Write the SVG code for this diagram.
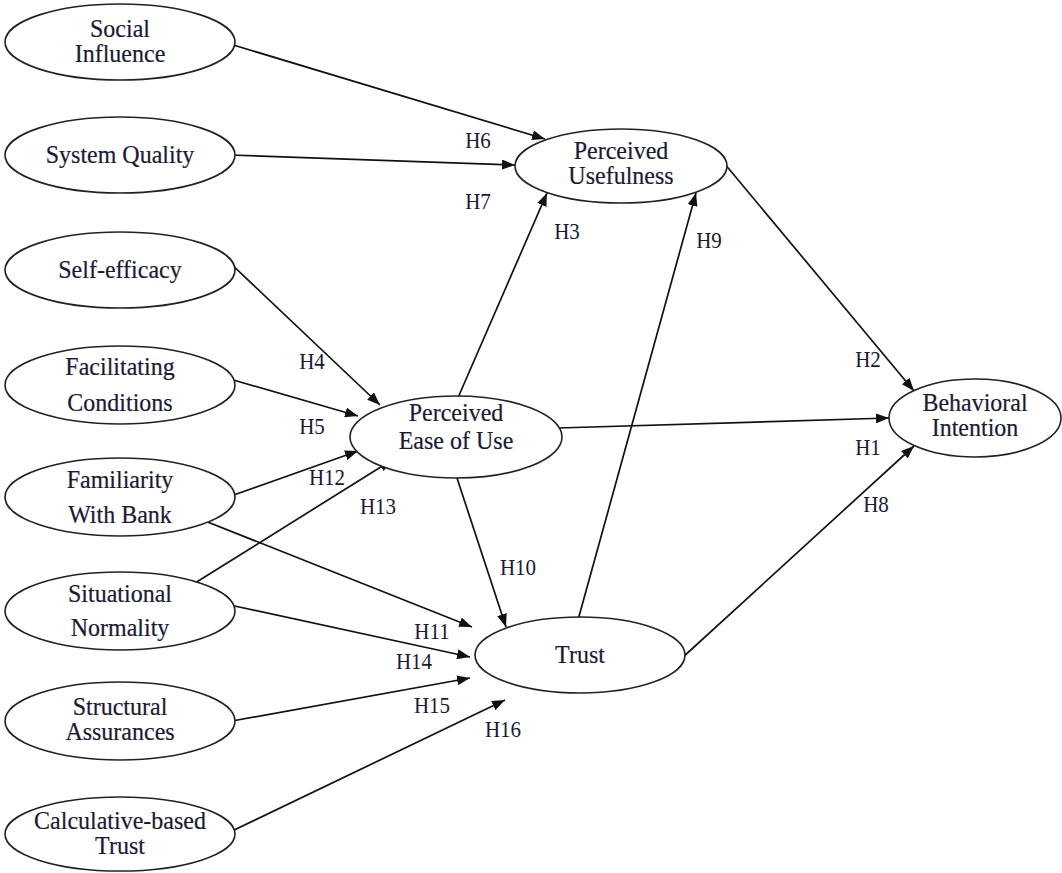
<svg xmlns="http://www.w3.org/2000/svg" width="1062" height="873" viewBox="0 0 1062 873">
  <style>
    .node ellipse { fill: #ffffff; stroke: #222222; stroke-width: 1.6; }
    .node text { font-family: "Liberation Serif", "Times New Roman", serif; font-size: 24px; fill: #1a1a33; stroke: #1a1a33; stroke-width: 0.2; text-anchor: middle; }
    .edges line { stroke: #111111; stroke-width: 1.7; marker-end: url(#head); }
    .lbl { font-family: "Liberation Serif", "Times New Roman", serif; font-size: 21px; fill: #1a1a33; text-anchor: middle; }
  </style>
  <defs>
    <marker id="head" markerUnits="userSpaceOnUse" markerWidth="13" markerHeight="10" refX="13" refY="5" orient="auto">
      <path d="M0,0 L13,5 L0,10 z" fill="#111111"/>
    </marker>
  </defs>
  <rect width="1062" height="873" fill="#ffffff"/>

  <!-- connectors (drawn first so node fills cover their starts) -->
  <g id="connectors" class="edges">
    <line x1="230" y1="44" x2="545" y2="139"/>
    <line x1="230" y1="155" x2="515" y2="165"/>
    <line x1="457" y1="400" x2="547" y2="193"/>
    <line x1="578" y1="620" x2="696" y2="193"/>
    <line x1="724" y1="163" x2="914" y2="391"/>
    <line x1="558" y1="428" x2="889" y2="418"/>
    <line x1="682" y1="658" x2="914" y2="446"/>
    <line x1="228" y1="261" x2="380" y2="405"/>
    <line x1="230" y1="379" x2="358" y2="416"/>
    <line x1="228" y1="497" x2="358" y2="451"/>
    <line x1="195" y1="583" x2="392" y2="460"/>
    <line x1="190" y1="515" x2="472" y2="627"/>
    <line x1="230" y1="605" x2="470" y2="657"/>
    <line x1="232" y1="721" x2="470" y2="678"/>
    <line x1="228" y1="833" x2="505" y2="700"/>
    <line x1="456" y1="475" x2="506" y2="627"/>
  </g>

  <!-- path labels (slightly tall lettering) -->
  <g id="labels">
    <text class="lbl" transform="translate(478,148) scale(1,1.1)">H6</text>
    <text class="lbl" transform="translate(478,209) scale(1,1.1)">H7</text>
    <text class="lbl" transform="translate(567,239) scale(1,1.1)">H3</text>
    <text class="lbl" transform="translate(709,248) scale(1,1.1)">H9</text>
    <text class="lbl" transform="translate(312,369) scale(1,1.1)">H4</text>
    <text class="lbl" transform="translate(312,434) scale(1,1.1)">H5</text>
    <text class="lbl" transform="translate(868,367) scale(1,1.1)">H2</text>
    <text class="lbl" transform="translate(868,455) scale(1,1.1)">H1</text>
    <text class="lbl" transform="translate(327,485) scale(1,1.1)">H12</text>
    <text class="lbl" transform="translate(378,514) scale(1,1.1)">H13</text>
    <text class="lbl" transform="translate(876,512) scale(1,1.1)">H8</text>
    <text class="lbl" transform="translate(518,575) scale(1,1.1)">H10</text>
    <text class="lbl" transform="translate(432,639) scale(1,1.1)">H11</text>
    <text class="lbl" transform="translate(414,669) scale(1,1.1)">H14</text>
    <text class="lbl" transform="translate(432,713) scale(1,1.1)">H15</text>
    <text class="lbl" transform="translate(503,737) scale(1,1.1)">H16</text>
  </g>

  <!-- exogenous constructs -->
  <g id="social-influence" class="node">
    <ellipse cx="120" cy="42" rx="115" ry="38"/>
    <text transform="translate(120,37) scale(1,1.05)">Social</text>
    <text transform="translate(120,62) scale(1,1.05)">Influence</text>
  </g>
  <g id="system-quality" class="node">
    <ellipse cx="120" cy="155" rx="115" ry="38"/>
    <text transform="translate(120,163) scale(1,1.08)">System Quality</text>
  </g>
  <g id="self-efficacy" class="node">
    <ellipse cx="120" cy="270" rx="115" ry="38"/>
    <text transform="translate(120,278) scale(1,1.08)">Self-efficacy</text>
  </g>
  <g id="facilitating-conditions" class="node">
    <ellipse cx="120" cy="385" rx="115" ry="39"/>
    <text transform="translate(120,375) scale(1,1.08)">Facilitating</text>
    <text transform="translate(120,411) scale(1,1.08)">Conditions</text>
  </g>
  <g id="familiarity-with-bank" class="node">
    <ellipse cx="120" cy="497" rx="115" ry="39"/>
    <text transform="translate(120,488) scale(1,1.08)">Familiarity</text>
    <text transform="translate(120,523) scale(1,1.08)">With Bank</text>
  </g>
  <g id="situational-normality" class="node">
    <ellipse cx="120" cy="611" rx="115" ry="39"/>
    <text transform="translate(120,602) scale(1,1.08)">Situational</text>
    <text transform="translate(120,636) scale(1,1.08)">Normality</text>
  </g>
  <g id="structural-assurances" class="node">
    <ellipse cx="120" cy="721" rx="115" ry="39"/>
    <text transform="translate(120,715) scale(1,1.05)">Structural</text>
    <text transform="translate(120,740) scale(1,1.05)">Assurances</text>
  </g>
  <g id="calculative-based-trust" class="node">
    <ellipse cx="120" cy="834" rx="115" ry="37"/>
    <text transform="translate(120,829) scale(1,1.05)">Calculative-based</text>
    <text transform="translate(120,854) scale(1,1.05)">Trust</text>
  </g>

  <!-- endogenous constructs -->
  <g id="perceived-usefulness" class="node">
    <ellipse cx="621" cy="166" rx="106" ry="37"/>
    <text transform="translate(621,159) scale(1,1.05)">Perceived</text>
    <text transform="translate(621,184) scale(1,1.05)">Usefulness</text>
  </g>
  <g id="perceived-ease-of-use" class="node">
    <ellipse cx="456" cy="437" rx="106" ry="41"/>
    <text transform="translate(456,421) scale(1,1.08)">Perceived</text>
    <text transform="translate(456,449) scale(1,1.08)">Ease of Use</text>
  </g>
  <g id="trust" class="node">
    <ellipse cx="580" cy="655" rx="105" ry="38"/>
    <text transform="translate(580,663) scale(1,1.08)">Trust</text>
  </g>
  <g id="behavioral-intention" class="node">
    <ellipse cx="975" cy="418" rx="86" ry="39"/>
    <text transform="translate(975,411) scale(1,1.05)">Behavioral</text>
    <text transform="translate(975,436) scale(1,1.05)">Intention</text>
  </g>
</svg>
